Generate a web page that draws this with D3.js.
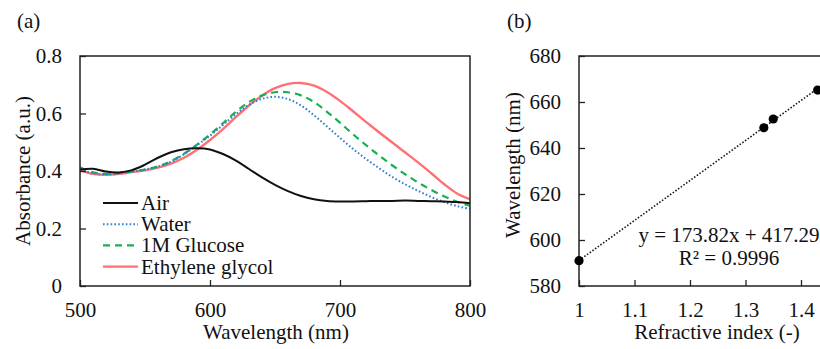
<!DOCTYPE html>
<html lang="en">
	<head>
		<meta charset="utf-8">
		<title>Absorbance / refractive index</title>
		<script src="https://cdn.jsdelivr.net/npm/d3@7"></script>
		<style>
			body { margin: 0; background: #fff; }
			svg text { font-family: "Liberation Serif", "Times New Roman", serif; }
		</style>
	</head>
	<body>
		<script type="text/javascript">

			// (a) spectra, sampled every 10 nm
			const wavelengths = d3.range(500, 801, 10);
			const absAir = [0.405, 0.408, 0.398, 0.395, 0.403, 0.422, 0.446, 0.465, 0.476, 0.479, 0.475,
				0.459, 0.436, 0.407, 0.378, 0.352, 0.330, 0.313, 0.302, 0.296, 0.294,
				0.294, 0.295, 0.296, 0.296, 0.297, 0.296, 0.295, 0.294, 0.292, 0.288];
			const absWater = [0.405, 0.392, 0.388, 0.392, 0.398, 0.405, 0.415, 0.432, 0.458, 0.490, 0.523,
				0.560, 0.598, 0.630, 0.651, 0.658, 0.650, 0.628, 0.594, 0.555, 0.515,
				0.477, 0.442, 0.410, 0.380, 0.354, 0.331, 0.310, 0.292, 0.278, 0.268];
			const absGlucose = [0.413, 0.395, 0.390, 0.393, 0.398, 0.405, 0.416, 0.434, 0.460, 0.492, 0.527,
				0.566, 0.606, 0.640, 0.663, 0.674, 0.674, 0.663, 0.640, 0.606, 0.568,
				0.528, 0.490, 0.454, 0.420, 0.389, 0.360, 0.335, 0.312, 0.293, 0.279];
			const absGlycol = [0.403, 0.390, 0.387, 0.390, 0.396, 0.402, 0.412, 0.426, 0.446, 0.474, 0.508,
				0.546, 0.588, 0.628, 0.662, 0.688, 0.703, 0.706, 0.697, 0.675, 0.644,
				0.608, 0.571, 0.535, 0.500, 0.465, 0.430, 0.393, 0.355, 0.322, 0.302];
			const seriesNames = ["Air", "Water", "1M Glucose", "Ethylene glycol"];
			const xTicksA = [500, 600, 700, 800];
			const yTicksA = [0, 0.2, 0.4, 0.6, 0.8];

			// (b) peak wavelength vs refractive index
			const refIndex = [1.0, 1.333, 1.35, 1.43];
			const peakNm = [591, 648.8, 652.6, 665.2];
			const fitSlope = 173.82;
			const fitIntercept = 417.29;
			const xTicksB = [1, 1.1, 1.2, 1.3, 1.4];
			const yTicksB = [580, 600, 620, 640, 660, 680];

			const width = 820;
			const height = 349;
			const fontSize = "21px";

			const svg = d3.select("body").append("svg")
				.attr("width", width)
				.attr("height", height)
				.attr("viewBox", [0, 0, width, height]);

			drawSpectra();
			drawFit();

			// all texts in the same serif face
			svg.selectAll("text")
				.style("font-family", "'Liberation Serif'")
				.style("font-size", fontSize)
				.attr("fill", "#111");

			function drawSpectra(){
				const left = 80, right = 470, top = 56, bottom = 286;

				const x = d3.scaleLinear().domain([500, 800]).range([left, right]);
				const y = d3.scaleLinear().domain([0, 0.8]).range([bottom, top]);

				const g = svg.append("g");

				const styles = [
					{color: "#111111", dash: null, w: 2},
					{color: "#2f7fd0", dash: "1.6,2.2", w: 2},
					{color: "#18b054", dash: "7,5", w: 2.2},
					{color: "#ff7074", dash: null, w: 2.4}
				];
				const data = [absAir, absWater, absGlucose, absGlycol];

				const line = d3.line()
					.x((d, i) => x(wavelengths[i]))
					.y(d => y(d))
					.curve(d3.curveCatmullRom);

				g.append("defs").append("clipPath").attr("id", "clipA")
					.append("rect").attr("x", left).attr("y", top)
					.attr("width", right - left).attr("height", bottom - top);

				// draw glycol first so the others sit on top like the original
				const order = [3, 2, 1, 0];
				g.append("g").attr("clip-path", "url(#clipA)")
					.selectAll("path")
					.data(order)
					.join("path")
					.attr("fill", "none")
					.attr("stroke", i => styles[i].color)
					.attr("stroke-width", i => styles[i].w)
					.attr("stroke-dasharray", i => styles[i].dash)
					.attr("d", i => line(data[i]));

				// axes, ticks pointing inward
				g.append("g")
					.attr("transform", `translate(0,${bottom})`)
					.call(d3.axisBottom(x).tickValues(xTicksA).tickSize(-6).tickPadding(16).tickFormat(d3.format("d")))
					.call(a => a.select(".domain").remove());

				g.append("g")
					.attr("transform", `translate(${left},0)`)
					.call(d3.axisLeft(y).tickValues(yTicksA).tickSize(-6).tickPadding(18).tickFormat(d => d === 0 ? "0" : d3.format(".1f")(d)))
					.call(a => a.select(".domain").remove());

				g.selectAll(".tick line").attr("stroke", "#222").attr("stroke-width", 1.3);

				g.append("rect")
					.attr("x", left).attr("y", top)
					.attr("width", right - left).attr("height", bottom - top)
					.attr("fill", "none")
					.attr("stroke", "#222")
					.attr("stroke-width", 1.5);

				// legend
				const legend = g.append("g").selectAll("g")
					.data(seriesNames)
					.join("g")
					.attr("transform", (d, i) => `translate(103,${203 + i * 21.2})`);

				legend.append("line")
					.attr("x1", 0).attr("x2", 35)
					.attr("stroke", (d, i) => styles[i].color)
					.attr("stroke-width", (d, i) => styles[i].w)
					.attr("stroke-dasharray", (d, i) => styles[i].dash);

				legend.append("text")
					.attr("x", 38)
					.attr("dy", "0.33em")
					.text(d => d);

				svg.append("text")
					.attr("x", (left + right) / 2 + 1)
					.attr("y", 339)
					.attr("text-anchor", "middle")
					.text("Wavelength (nm)");

				svg.append("text")
					.attr("transform", `translate(30,${(top + bottom) / 2}) rotate(-90)`)
					.attr("text-anchor", "middle")
					.text("Absorbance (a.u.)");

				svg.append("text")
					.attr("x", 17).attr("y", 28)
					.text("(a)");
			}

			function drawFit(){
				const left = 579, right = 856.5, top = 56, bottom = 286;

				const x = d3.scaleLinear().domain([1, 1.5]).range([left, right]);
				const y = d3.scaleLinear().domain([580, 680]).range([bottom, top]);

				const g = svg.append("g");

				g.append("g")
					.attr("transform", `translate(0,${bottom})`)
					.call(d3.axisBottom(x).tickValues(xTicksB).tickSize(-6).tickPadding(16).tickFormat(d => d === 1 ? "1" : d3.format(".1f")(d)))
					.call(a => a.select(".domain").remove());

				g.append("g")
					.attr("transform", `translate(${left},0)`)
					.call(d3.axisLeft(y).tickValues(yTicksB).tickSize(-6).tickPadding(18))
					.call(a => a.select(".domain").remove());

				g.selectAll(".tick line").attr("stroke", "#222").attr("stroke-width", 1.3);

				g.append("rect")
					.attr("x", left).attr("y", top)
					.attr("width", right - left).attr("height", bottom - top)
					.attr("fill", "none")
					.attr("stroke", "#222")
					.attr("stroke-width", 1.5);

				// linear trend line between first and last point
				const xs = d3.extent(refIndex);
				g.append("line")
					.attr("x1", x(xs[0])).attr("y1", y(fitSlope * xs[0] + fitIntercept))
					.attr("x2", x(xs[1])).attr("y2", y(fitSlope * xs[1] + fitIntercept))
					.attr("stroke", "#111")
					.attr("stroke-width", 1.6)
					.attr("stroke-dasharray", "1.5,1.8");

				g.append("g")
					.selectAll("circle")
					.data(refIndex)
					.join("circle")
					.attr("cx", d => x(d))
					.attr("cy", (d, i) => y(peakNm[i]))
					.attr("r", 4.6)
					.attr("fill", "#000");

				g.append("text")
					.attr("x", 729).attr("y", 242)
					.attr("text-anchor", "middle")
					.text(`y = ${fitSlope}x + ${fitIntercept}`);

				g.append("text")
					.attr("x", 729).attr("y", 265)
					.attr("text-anchor", "middle")
					.text("R² = 0.9996");

				svg.append("text")
					.attr("x", 717)
					.attr("y", 339)
					.attr("text-anchor", "middle")
					.text("Refractive index (-)");

				svg.append("text")
					.attr("transform", `translate(520,165) rotate(-90)`)
					.attr("text-anchor", "middle")
					.text("Wavelength (nm)");

				svg.append("text")
					.attr("x", 507).attr("y", 28)
					.text("(b)");
			}

		</script>
	</body>
</html>
